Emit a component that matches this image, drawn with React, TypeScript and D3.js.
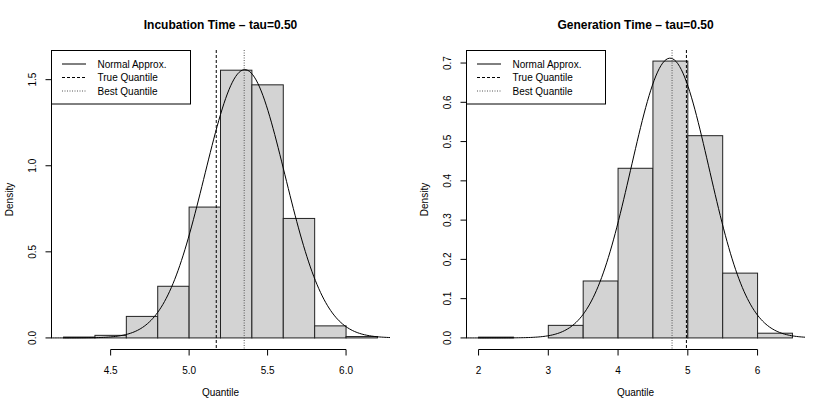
import React from "react";
import * as d3 from "d3";

// ---- Data ----
const incBreaks = [4.2, 4.4, 4.6, 4.8, 5.0, 5.2, 5.4, 5.6, 5.8, 6.0, 6.2];
const incDensity = [0.005, 0.015, 0.125, 0.3, 0.76, 1.555, 1.47, 0.694, 0.07, 0.008];
const incXTicks = [4.5, 5.0, 5.5, 6.0];
const incYTicks = [0, 0.5, 1.0, 1.5];
const incMean = 5.355;
const incSd = 0.256;
const incTrueQ = 5.173;
const incBestQ = 5.351;
const incYMax = 1.608;

const genBreaks = [2.0, 2.5, 3.0, 3.5, 4.0, 4.5, 5.0, 5.5, 6.0, 6.5];
const genDensity = [0.002, 0, 0.032, 0.145, 0.432, 0.705, 0.515, 0.165, 0.012];
const genXTicks = [2, 3, 4, 5, 6];
const genYTicks = [0, 0.1, 0.2, 0.3, 0.4, 0.5, 0.6, 0.7];
const genMean = 4.745;
const genSd = 0.56;
const genTrueQ = 4.98;
const genBestQ = 4.774;
const genYMax = 0.705;

const titles = ["Incubation Time \u2013 tau=0.50", "Generation Time \u2013 tau=0.50"];
const legendLabels = ["Normal Approx.", "True Quantile", "Best Quantile"];

const DASH = "3,2";
const DOT = "1,1.5";
const FONT = "'Liberation Sans', Arial, Helvetica, sans-serif";
const W = 830;
const H = 413;
const PW = 415;
const M = { left: 51, right: 25, top: 50, bottom: 64 };

type PanelProps = {
  id: string;
  ox: number;
  title: string;
  breaks: number[];
  density: number[];
  xTicks: number[];
  yTicks: number[];
  mean: number;
  sd: number;
  trueQ: number;
  bestQ: number;
  yMax: number;
  xFmt: (v: number) => string;
  yFmt: (v: number) => string;
};

function Panel(p: PanelProps) {
  const left = p.ox + M.left;
  const right = p.ox + PW - M.right;
  const top = M.top;
  const bottom = H - M.bottom;
  const b0 = p.breaks[0];
  const b1 = p.breaks[p.breaks.length - 1];
  const xr = b1 - b0;
  const x = d3.scaleLinear().domain([b0 - 0.04 * xr, b1 + 0.04 * xr]).range([left, right]);
  const y = d3.scaleLinear().domain([-0.04 * p.yMax, 1.04 * p.yMax]).range([bottom, top]);
  const [ux0, ux1] = x.domain();
  const pts = d3.range(0, 201).map((i) => {
    const xv = ux0 + ((ux1 - ux0) * i) / 200;
    const z = (xv - p.mean) / p.sd;
    return [xv, Math.exp(-0.5 * z * z) / (p.sd * Math.sqrt(2 * Math.PI))] as [number, number];
  });
  const line = d3
    .line<[number, number]>()
    .x((d) => x(d[0]))
    .y((d) => y(d[1]));
  const cx = (left + right) / 2;
  const cy = (top + bottom) / 2;
  const axisY = bottom + 0.5;
  const axisX = left + 0.5;
  const lgW = 139;
  const lgH = 53.5;
  const rows = [14, 27.5, 41];
  const styles = [
    { dash: undefined as string | undefined, color: "#000" },
    { dash: DASH, color: "#000" },
    { dash: DOT, color: "#555" },
  ];
  return (
    <g>
      <defs>
        <clipPath id={p.id}>
          <rect x={left} y={top} width={right - left} height={bottom - top} />
        </clipPath>
      </defs>
      <text x={cx} y={29} textAnchor="middle" fontWeight="bold" fontSize={12} fontFamily={FONT}>
        {p.title}
      </text>
      {p.density.map((d, i) => (
        <rect
          key={i}
          x={x(p.breaks[i])}
          y={y(d)}
          width={x(p.breaks[i + 1]) - x(p.breaks[i])}
          height={y(0) - y(d)}
          fill="#D3D3D3"
          stroke="#222"
          strokeWidth={1}
        />
      ))}
      <g clipPath={`url(#${p.id})`}>
        <path d={line(pts) || ""} fill="none" stroke="#000" strokeWidth={1} />
        <line x1={x(p.trueQ)} x2={x(p.trueQ)} y1={top} y2={bottom} stroke="#000" strokeDasharray={DASH} />
        <line x1={x(p.bestQ)} x2={x(p.bestQ)} y1={top} y2={bottom} stroke="#555" strokeDasharray={DOT} />
      </g>
      {/* x axis */}
      <line
        x1={x(p.xTicks[0])}
        x2={x(p.xTicks[p.xTicks.length - 1])}
        y1={axisY}
        y2={axisY}
        stroke="#000"
      />
      {p.xTicks.map((t) => (
        <g key={t}>
          <line x1={x(t)} x2={x(t)} y1={axisY} y2={axisY + 6} stroke="#000" />
          <text x={x(t)} y={bottom + 25} textAnchor="middle" fontSize={10} fontFamily={FONT}>
            {p.xFmt(t)}
          </text>
        </g>
      ))}
      {/* y axis */}
      <line
        x1={axisX}
        x2={axisX}
        y1={y(p.yTicks[0])}
        y2={y(p.yTicks[p.yTicks.length - 1])}
        stroke="#000"
      />
      {p.yTicks.map((t) => (
        <g key={t}>
          <line x1={axisX - 6} x2={axisX} y1={y(t)} y2={y(t)} stroke="#000" />
          <text
            transform={`translate(${left - 15.5},${y(t)}) rotate(-90)`}
            textAnchor="middle"
            fontSize={10}
            fontFamily={FONT}
          >
            {p.yFmt(t)}
          </text>
        </g>
      ))}
      <text x={cx} y={bottom + 47} textAnchor="middle" fontSize={10} fontFamily={FONT}>
        Quantile
      </text>
      <text
        transform={`translate(${left - 38},${cy}) rotate(-90)`}
        textAnchor="middle"
        fontSize={10}
        fontFamily={FONT}
      >
        Density
      </text>
      {/* legend */}
      <rect x={axisX} y={top + 0.5} width={lgW} height={lgH} fill="#fff" stroke="#000" />
      {legendLabels.map((lab, i) => (
        <g key={lab}>
          <line
            x1={left + 11}
            x2={left + 35}
            y1={top + rows[i]}
            y2={top + rows[i]}
            stroke={styles[i].color}
            strokeDasharray={styles[i].dash}
          />
          <text x={left + 46.5} y={top + rows[i] + 3.6} fontSize={10} fontFamily={FONT}>
            {lab}
          </text>
        </g>
      ))}
    </g>
  );
}

export default function App() {
  const f1 = (v: number) => v.toFixed(1);
  const f0 = (v: number) => String(v);
  return (
    <svg
      width={W}
      height={H}
      style={{ position: "absolute", left: 0, top: 0, background: "#fff" }}
    >
      <rect x={0} y={0} width={W} height={H} fill="#fff" />
      <Panel
        id="clipA"
        ox={0}
        title={titles[0]}
        breaks={incBreaks}
        density={incDensity}
        xTicks={incXTicks}
        yTicks={incYTicks}
        mean={incMean}
        sd={incSd}
        trueQ={incTrueQ}
        bestQ={incBestQ}
        yMax={incYMax}
        xFmt={f1}
        yFmt={f1}
      />
      <Panel
        id="clipB"
        ox={PW}
        title={titles[1]}
        breaks={genBreaks}
        density={genDensity}
        xTicks={genXTicks}
        yTicks={genYTicks}
        mean={genMean}
        sd={genSd}
        trueQ={genTrueQ}
        bestQ={genBestQ}
        yMax={genYMax}
        xFmt={f0}
        yFmt={f1}
      />
    </svg>
  );
}
